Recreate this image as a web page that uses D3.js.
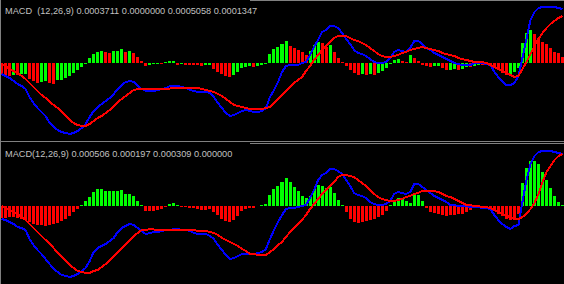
<!DOCTYPE html>
<html>
<head>
<meta charset="utf-8">
<script src="https://cdn.jsdelivr.net/npm/d3@7"></script>
<style>
  body { margin: 0; background: #000; }
  svg { display: block; }
</style>
</head>
<body>
<svg></svg>
<script>
// values in units of 1e-5, one per bar
const histTop = [
  -12, -13, -13.5, -12, -12.5, -11.5, -11, -16, -18, -20,
  -19.5, -18, -20.5, -21, -17.5, -17, -15, -13, -10.5, -7.5,
  -4, -1.5, 5, 9, 11, 11.5, 10.5, 10, 11.5, 12,
  13.5, 11, 11.5, 10, 5.5, 1.5, -3, -2.2, -1.8, -1.2,
  -1.5, 1, 1.3, 1.5, -2.2, -1.8, -2.2, -2.5, -2.7, -2.8,
  -3.2, -2.5, -2, -6, -9, -11, -13, -14, -12, -9,
  -5, -4, -3.5, -4, -3.5, -2.5, -1, 9, 14, 16,
  19, 21.5, 17, 14.5, 13, 11, 8, 12, 18, 21,
  20, 16, 18, 11, 5, 1, -3, -7, -10, -12,
  -11, -12, -11, -12.5, -10, -8, -5, -1, 3, 4,
  2, 1, 8, 5, 2, -2, -3, -4, -3.5, -3,
  -5.5, -7.5, -7, -6.5, -7, -6, -4, -4.5, -3, -2,
  -2.3, -1.5, -1.8, -3, -7, -10, -12, -11, -9, -5,
  19.5, 29.5, 33, 29, 24.5, 21, 18.5, 14.5, 11, 9.5, 6
];
const macdTop = [
  -11.5, -13.5, -15.5, -18.5, -21.5, -23.5, -26.5, -34.5, -40.5, -45.5,
  -49.5, -53.5, -60.5, -64.5, -67.5, -69.5, -70.5, -71.5, -70.5, -68.5,
  -65.5, -61.5, -54.5, -48.5, -44.5, -41.5, -38.5, -35.5, -31.5, -26.5,
  -22.5, -19.5, -18.5, -19.5, -23.5, -26.5, -28.5, -28.5, -28.5, -27.5,
  -26.5, -25.5, -23.5, -23.5, -23.5, -24.5, -25.5, -27.5, -28.5, -29.5,
  -29.5, -29.5, -30.5, -34.5, -40.5, -45.5, -50.5, -53.5, -52.5, -50.5,
  -48.5, -47.5, -48.5, -49.5, -49.5, -48.5, -45.5, -34.5, -27.5, -19.5,
  -9.5, -3.5, -2.5, -2.5, -2.5, -0.5, 0.5, 7.5, 15.5, 22.5,
  30.5, 32.5, 36.5, 36.5, 34.5, 29.5, 23.5, 18.5, 12.5, 9.5,
  8.5, 6.5, 3.5, 0.5, -0.5, -0.5, 0.5, 4.5, 10.5, 12.5,
  11.5, 10.5, 14.5, 21.5, 21.5, 18.5, 14.5, 12.5, 9.5, 7.5,
  5.5, 3.5, 1.5, -0.5, -1.5, -2.5, -2.5, -2.5, -0.5, -0.5,
  -0.5, -1.5, -2.5, -9.5, -14.5, -18.5, -22.5, -22.5, -20.5, -13.5,
  4.5, 23.5, 42.5, 50.5, 54.5, 55.5, 55.5, 55.5, 55.5, 54.5, 53.5
];
const signalTop = [
  -1.5, -3.5, -6.5, -8.5, -10.5, -13.5, -16.5, -20.5, -24.5, -28.5,
  -32.5, -35.5, -39.5, -42.5, -45.5, -49.5, -53.5, -57.5, -60.5, -62.5,
  -63.5, -63.5, -61.5, -58.5, -55.5, -53.5, -50.5, -47.5, -43.5, -39.5,
  -36.5, -33.5, -30.5, -27.5, -26.5, -26.5, -26.5, -26.5, -26.5, -26,
  -26, -26, -26, -25.5, -25.5, -25.5, -25.5, -25.5, -25.5, -25.5,
  -26.5, -27.5, -28.5, -29.5, -31.5, -33.5, -36.5, -39.5, -42.5, -43.5,
  -44.5, -45.5, -46.5, -46.5, -46.5, -46.5, -45.5, -44.5, -40.5, -36.5,
  -32.5, -28.5, -24.5, -20.5, -17.5, -14.5, -8.5, -3.5, 2.5, 7.5,
  12.5, 16.5, 20.5, 24.5, 26.5, 26.5, 26.5, 24.5, 22.5, 21.5,
  19.5, 17.5, 14.5, 11.5, 8.5, 6.5, 5.5, 5.5, 6.5, 7.5,
  9.5, 10.5, 12.5, 13.5, 14.5, 15.5, 14.5, 13.5, 12.5, 11.5,
  9.5, 8.5, 7.5, 6.5, 4.5, 3.5, 2.5, 1.5, 0.5, 0.5,
  0.5, -0.5, -2.5, -4.5, -6.5, -8.5, -10.5, -12.5, -14.5, -13.5,
  -6.5, 0.5, 8.5, 16.5, 23.5, 29.5, 34.5, 38.5, 41.5, 44.5, 46.5
];
const histBottom = [
  -12, -12, -11, -11, -12, -13, -14, -16, -18, -19,
  -19, -19.5, -19, -18, -17, -15, -13, -10, -6, -3,
  1, 5, 9, 14, 17, 17, 15.5, 15, 15, 15,
  16, 12, 12, 10, 5, 1, -5, -5, -5, -4,
  -2.5, -1, 2, 3, 1.5, -1, -1, -1.5, -2, -2.5,
  -4, -3.5, -3, -6, -9, -12.5, -15, -16, -14, -9.5,
  -5, -2.5, -2, -1.5, 0.5, 1, 2, 11, 17, 20,
  24, 28, 24.5, 19, 15, 10, 8, 10, 17.5, 21.5,
  20, 18.5, 19.5, 13, 6, 1.5, -6, -12.5, -16, -17,
  -16, -15, -14, -12.5, -11, -8.5, -5, 1, 6, 8,
  7, 5, 3, 12, 11, 5, -2, -6, -7, -8,
  -9, -10, -9, -9, -8, -8, -6, -4, -1, 0.5,
  -0.5, -1, -3, -4, -8, -10, -13, -14, -14, -8,
  23, 38, 45, 45, 42, 34, 26, 18, 10, 4, 1
];
const macdBottom = [
  -13, -14, -16, -18, -21, -22, -24, -33, -39, -44,
  -48, -53, -58, -63, -66, -69, -70, -71, -70, -68,
  -65, -62, -55, -46, -42, -40, -38, -35, -32, -26,
  -22, -20, -18, -19, -22, -25, -28, -27, -26, -26,
  -25, -24, -24, -23, -23, -24, -24, -25, -27, -28,
  -28, -28, -30, -33, -39, -44, -49, -53, -52, -50,
  -48, -48, -48, -48, -47, -46, -43, -33, -24, -16,
  -9, -3, -2, -2, -1, 0, 1, 8, 16, 26,
  31, 33, 37, 37, 35, 32, 26, 20, 13, 11,
  10, 8, 4, 2, 1, 1, 2, 5, 12, 14,
  13, 12, 14, 22, 22, 19, 16, 13, 10, 8,
  6, 4, 1, 1, 0, 0, 0, -1, -1, -1,
  -2, -2, -3, -9, -14, -18, -21, -23, -20, -19,
  4, 26, 42, 50, 54, 55, 55, 55, 54, 53, 52
];
const signalBottom = [
  0, -2, -4, -6, -8, -11, -14, -18, -22, -26,
  -30, -34, -38, -42, -47, -51, -55, -59, -62, -65,
  -66, -67, -67, -65, -64, -61, -58, -54, -50, -46,
  -42, -38, -34, -30, -27, -24, -24, -23, -23.5, -23.5,
  -23.5, -23.5, -23.5, -23.5, -23.5, -23.5, -24, -24, -24, -25,
  -25, -25, -26, -27, -29, -32, -34, -36, -38, -40,
  -43, -45, -48, -48, -49, -49, -49, -46, -43, -39,
  -36, -31, -26, -22, -18, -14, -9, -3, 2, 7,
  12, 16, 20, 24, 29, 31, 31, 30, 29, 26,
  23, 20, 16, 12, 9, 7, 6, 5, 5, 6,
  7, 9, 10, 12, 13, 15, 15, 15, 15, 14,
  12, 10, 9, 7, 5, 3, 1, 1, 0, 0,
  -1, -1, -2, -4, -6, -8, -10, -11, -13, -13,
  -11, -8, -3, 3, 12, 24, 34, 40, 46, 50, 52
];
const labelTop = "MACD  (12,26,9) 0.0003711 0.0000000 0.0005058 0.0001347";
const labelBottom = "MACD(12,26,9) 0.000506 0.000197 0.000309 0.000000";

const W = 564, H = 284;
const svg = d3.select("svg").attr("width", W).attr("height", H);
svg.append("rect").attr("width", W).attr("height", H).attr("fill", "#000");

const x = d3.scaleBand().domain(d3.range(histTop.length)).range([0, W]).paddingInner(0.25);

const GREEN = "#00ff00", RED = "#ff0000", BLUE = "#0000ff";

function panel(hist, macd, signal, y, colorOf, label, labelY) {
  const g = svg.append("g");
  g.selectAll("rect.bar")
    .data(hist)
    .enter()
    .append("rect")
    .attr("x", (d, i) => x(i))
    .attr("width", x.bandwidth())
    .attr("y", d => Math.min(y(d), y(0)))
    .attr("height", d => Math.abs(y(d) - y(0)))
    .attr("fill", colorOf)
    .attr("shape-rendering", "crispEdges");

  const line = d3.line()
    .x((d, i) => x(i) + x.bandwidth() / 2)
    .y(d => y(d));
  g.append("path").datum(macd).attr("d", line)
    .attr("fill", "none").attr("stroke", BLUE).attr("stroke-width", 2)
    .attr("shape-rendering", "crispEdges");
  g.append("path").datum(signal).attr("d", line)
    .attr("fill", "none").attr("stroke", RED).attr("stroke-width", 2)
    .attr("shape-rendering", "crispEdges");

  g.append("text")
    .attr("x", 5).attr("y", labelY)
    .style("white-space", "pre")
    .attr("font-family", "Liberation Sans, Arial, sans-serif")
    .attr("font-size", 9.2)
    .attr("fill", "#c0c0c0")
    .text(label);
}

const yTop = d3.scaleLinear().domain([-80, 62.5]).range([142.5, 0]);
const yBottom = d3.scaleLinear().domain([-78, 64]).range([284, 142]);

// top: green when the bar rises, red when it falls
panel(histTop, macdTop, signalTop, yTop,
  (d, i) => (i > 0 && d > histTop[i - 1]) ? GREEN : RED, labelTop, 13.5);
// bottom: green above zero, red below
panel(histBottom, macdBottom, signalBottom, yBottom,
  d => d >= 0 ? GREEN : RED, labelBottom, 156.5);

// frame lines
const frame = svg.append("g").attr("stroke", "#808080").attr("shape-rendering", "crispEdges");
frame.append("line").attr("x1", 0.5).attr("x2", 0.5).attr("y1", 0).attr("y2", H);
frame.append("line").attr("x1", 250).attr("x2", W).attr("y1", 0.5).attr("y2", 0.5);
frame.append("line").attr("x1", 0).attr("x2", W).attr("y1", 141.5).attr("y2", 141.5);
frame.append("line").attr("x1", 250).attr("x2", W).attr("y1", 143.5).attr("y2", 143.5);
</script>
</body>
</html>
